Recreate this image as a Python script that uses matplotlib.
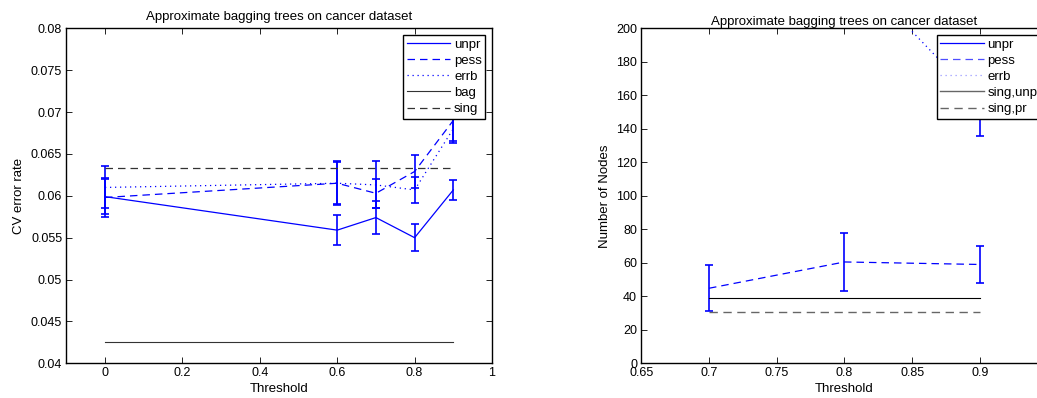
import matplotlib
matplotlib.use("Agg")
import matplotlib.pyplot as plt
from matplotlib.ticker import FuncFormatter
from matplotlib.lines import Line2D

plt.rcParams['font.family'] = ['Liberation Sans', 'DejaVu Sans']

# ---- data: CV error rate ----
thr_err = [0, 0.6, 0.7, 0.8, 0.9]
unpr_err = [0.0599, 0.0559, 0.0574, 0.0550, 0.0607]
unpr_err_e = [0.0021, 0.0018, 0.0020, 0.0016, 0.0012]
pess_err = [0.0598, 0.0615, 0.0603, 0.0629, 0.0690]
pess_err_e = [0.0023, 0.0025, 0.0017, 0.0020, 0.0025]
errb_err = [0.0610, 0.0615, 0.0613, 0.0607, 0.0680]
errb_err_e = [0.0025, 0.0026, 0.0028, 0.0015, 0.0017]
bag_err = 0.0425
sing_err = 0.0633

# ---- data: number of nodes ----
thr_n = [0.7, 0.8, 0.9]
unpr_n = [330, 320, 300]
unpr_n_e = [25, 25, 25]
pess_n = [44.8, 60.5, 59.0]
pess_n_e = [13.6, 17.5, 10.8]
errb_n = [300, 240, 156]
errb_n_e = [25, 25, 20]
sing_unpr_n = 38.8
sing_pr_n = 30.8

title = "Approximate bagging trees on cancer dataset"
FS = 9.5
TFS = 9.0

fig = plt.figure(figsize=(10.37, 3.98), dpi=100)
W, H = 1037.0, 398.0

def axes_px(x0, x1, y0, y1):
    return fig.add_axes([x0 / W, 1 - y1 / H, (x1 - x0) / W, (y1 - y0) / H])

def style(ax):
    ax.tick_params(direction='in', top=True, right=True, length=4, width=0.6,
                   labelsize=TFS, pad=3)
    for s in ax.spines.values():
        s.set_linewidth(1.0)

fmt = FuncFormatter(lambda v, p: '%g' % round(v, 4))
blue = (0, 0, 1)
DASH = (0, (6, 4))
DOT = (0, (1, 3))
eb_kw = dict(capsize=3.0, elinewidth=1.2, capthick=1.2, ecolor=blue)

def make_legend(ax, labels, styles, anchor):
    handles = [Line2D([], [], color=c, ls=ls, lw=lw) for (c, ls, lw) in styles]
    leg = ax.legend(handles, labels, loc='upper left', bbox_to_anchor=anchor, fontsize=FS,
                    frameon=True, fancybox=False, edgecolor='k', framealpha=1,
                    handlelength=3.3, handletextpad=0.3, labelspacing=0.3,
                    borderpad=0.25, borderaxespad=0)
    leg.get_frame().set_linewidth(1.0)
    return leg

# ---------- left ----------
ax1 = axes_px(66.3, 492.0, 28.3, 363.3)
ax1.errorbar(thr_err, unpr_err, yerr=unpr_err_e, color=blue, ls='-', lw=0.9, **eb_kw)
ax1.errorbar(thr_err, pess_err, yerr=pess_err_e, color=blue, ls=DASH, lw=0.9, **eb_kw)
ax1.errorbar(thr_err, errb_err, yerr=errb_err_e, color=blue, ls=DOT, lw=0.9, **eb_kw)
ax1.plot([thr_err[0], thr_err[-1]], [bag_err, bag_err], color='0.2', lw=0.8)
ax1.plot([thr_err[0], thr_err[-1]], [sing_err, sing_err], color='0.2', lw=0.9, ls=DASH)
ax1.set_xlim(-0.1, 1.0)
ax1.set_ylim(0.04, 0.08)
ax1.set_xticks([0, 0.2, 0.4, 0.6, 0.8, 1.0])
ax1.set_yticks([0.04 + 0.005 * i for i in range(9)])
ax1.xaxis.set_major_formatter(fmt)
ax1.yaxis.set_major_formatter(fmt)
ax1.set_title(title, fontsize=FS, pad=6)
ax1.set_xlabel('Threshold', fontsize=FS)
ax1.xaxis.set_label_coords(0.5, -0.058)
ax1.set_ylabel('CV error rate', fontsize=FS, labelpad=4)
style(ax1)
make_legend(ax1, ['unpr', 'pess', 'errb', 'bag', 'sing'],
            [(blue, '-', 0.9), (blue, DASH, 0.9), (blue, DOT, 0.9),
             ('0.2', '-', 0.8), ('0.2', DASH, 0.9)],
            (0.7916, 0.980))

# ---------- right ----------
ax2 = axes_px(641.25, 1067.0, 28.3, 363.3)
ax2.errorbar(thr_n, unpr_n, yerr=unpr_n_e, color=blue, ls='-', lw=0.9, **eb_kw)
ax2.errorbar(thr_n, pess_n, yerr=pess_n_e, color=blue, ls=DASH, lw=0.9, **eb_kw)
ax2.errorbar(thr_n, errb_n, yerr=errb_n_e, color=blue, ls=DOT, lw=0.9, **eb_kw)
ax2.plot([thr_n[0], thr_n[-1]], [sing_unpr_n, sing_unpr_n], color='k', lw=0.8)
ax2.plot([thr_n[0], thr_n[-1]], [sing_pr_n, sing_pr_n], color='0.4', lw=1.0, ls=DASH)
ax2.set_xlim(0.65, 0.65 + (1067.0 - 641.25) / 67.75 * 0.05)
ax2.set_ylim(0, 200)
ax2.set_xticks([0.65, 0.7, 0.75, 0.8, 0.85, 0.9])
ax2.set_yticks(list(range(0, 201, 20)))
ax2.xaxis.set_major_formatter(fmt)
ax2.set_xlabel('Threshold', fontsize=FS)
ax2.xaxis.set_label_coords((844.0 - 641.25) / (1067.0 - 641.25), -0.058)
ax2.set_ylabel('Number of Nodes', fontsize=FS, labelpad=4)
ax2.text(0.8, 1.0, title, transform=ax2.get_xaxis_transform(), ha='center', va='bottom',
         fontsize=FS)
style(ax2)
make_legend(ax2, ['unpr', 'pess', 'errb', 'sing,unpr', 'sing,pr'],
            [(blue, '-', 0.9), ((0.3, 0.3, 1), DASH, 0.9), ((0.6, 0.6, 1), DOT, 0.9),
             ('0.4', '-', 1.0), ('0.4', DASH, 1.0)],
            (0.694, 0.980))

fig.savefig('out.png', dpi=100)
